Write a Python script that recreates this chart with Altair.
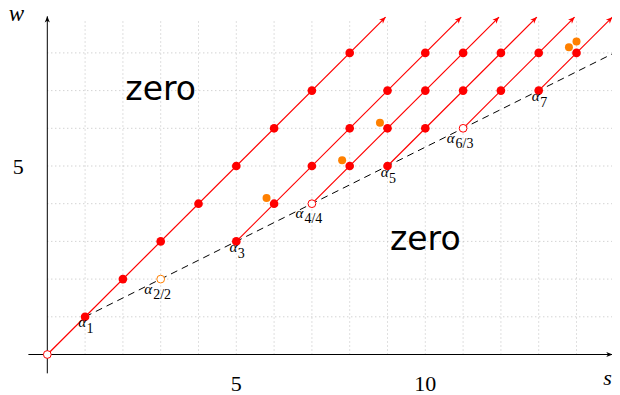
import altair as alt
import pandas as pd

# ---------------- data ----------------
# red rays w = s - k, start point and end point (arrow tip)
ray_s0 = [0, 5, 7, 9, 11, 13]
ray_w0 = [0, 3, 4, 5, 6, 7]
ray_s1 = [8.95, 10.95, 11.95, 12.95, 13.95, 14.95]
ray_w1 = [8.95, 8.95, 8.95, 8.95, 8.95, 8.95]

# filled red dots
red_s = [1, 2, 3, 4, 5, 6, 7, 8,
         5, 6, 7, 8, 9, 10,
         8, 9, 10, 11,
         9, 10, 11, 12,
         12, 13,
         13, 14]
red_w = [1, 2, 3, 4, 5, 6, 7, 8,
         3, 4, 5, 6, 7, 8,
         5, 6, 7, 8,
         5, 6, 7, 8,
         7, 8,
         7, 8]
# open red circles
red_open_s = [0, 7, 11]
red_open_w = [0, 4, 6]
# orange dots
orange_s = [5.8, 7.8, 8.8, 13.8, 14.0]
orange_w = [4.15, 5.15, 6.15, 8.15, 8.3]
orange_open_s = [3]
orange_open_w = [2]

# dashed line
dash_s = [1, 14.95]
dash_w = [1, 7.975]

# alpha labels
lab_s = [1, 3, 5, 7, 9, 11, 13]
lab_w = [1, 2, 3, 4, 5, 6, 7]
lab_sub = ["1", "2/2", "3", "4/4", "5", "6/3", "7"]

# "zero" region labels
zero_s = [3, 10]
zero_w = [7, 3]
zero_txt = ["zero", "zero"]

# ticks / grid
xtick_vals = [5, 10]
xtick_txt = ["5", "10"]
ytick_vals = [5]
ytick_txt = ["5"]
grid_s = list(range(1, 15))
grid_w = list(range(1, 9))
grid_top = 8.85
grid_right = 14.95

# axes extents
axis_s = [-0.5, 14.95]
axis_w = [-0.5, 8.97]

# ---------------- scales ----------------
W, H = 604, 387
X0 = -39.3 / 37.8
X1 = X0 + W / 37.8
Y1 = 346.5 / 37.7
Y0 = Y1 - H / 37.7
xs = alt.Scale(domain=[X0, X1], nice=False, zero=False)
ys = alt.Scale(domain=[Y0, Y1], nice=False, zero=False)


def X(f):
    return alt.X(f"{f}:Q", scale=xs, axis=None)


def Y(f):
    return alt.Y(f"{f}:Q", scale=ys, axis=None)


RED = "#ff0000"
ORANGE = "#ff8000"
ARROW = "M0,0 L-0.42,1 L0,0.72 L0.42,1 Z"
SERIF = "Liberation Serif"

# ---------------- layers ----------------
vgrid = pd.DataFrame({"s": grid_s, "w0": 0.0, "w1": grid_top})
hgrid = pd.DataFrame({"w": grid_w, "s0": 0.0, "s1": grid_right})
grid_v = alt.Chart(vgrid).mark_rule(color="#b0b0b0", strokeWidth=0.8, strokeDash=[1, 3]).encode(
    x=X("s"), y=Y("w0"), y2="w1")
grid_h = alt.Chart(hgrid).mark_rule(color="#b0b0b0", strokeWidth=0.8, strokeDash=[1, 3]).encode(
    y=Y("w"), x=X("s0"), x2="s1")

xaxis_df = pd.DataFrame({"s0": [axis_s[0]], "s1": [axis_s[1]], "w": [0.0]})
yaxis_df = pd.DataFrame({"w0": [axis_w[0]], "w1": [axis_w[1]], "s": [0.0]})
xaxis = alt.Chart(xaxis_df).mark_rule(color="#000000", strokeWidth=1).encode(
    x=X("s0"), x2="s1", y=Y("w"))
yaxis = alt.Chart(yaxis_df).mark_rule(color="#000000", strokeWidth=1).encode(
    y=Y("w0"), y2="w1", x=X("s"))
xarrow = alt.Chart(pd.DataFrame({"s": [axis_s[1]], "w": [0.0]})).mark_point(
    shape=ARROW, filled=True, color="#000000", size=150, angle=90, opacity=1).encode(x=X("s"), y=Y("w"))
yarrow = alt.Chart(pd.DataFrame({"s": [0.0], "w": [axis_w[1]]})).mark_point(
    shape=ARROW, filled=True, color="#000000", size=150, angle=0, opacity=1).encode(x=X("s"), y=Y("w"))

xt = alt.Chart(pd.DataFrame({"s": xtick_vals, "w": 0.0, "t": xtick_txt})).mark_text(
    font=SERIF, fontSize=22, dy=36, baseline="alphabetic", align="center", color="#000").encode(
    x=X("s"), y=Y("w"), text="t:N")
yt = alt.Chart(pd.DataFrame({"s": 0.0, "w": ytick_vals, "t": ytick_txt})).mark_text(
    font=SERIF, fontSize=22, dx=-29, dy=8, baseline="alphabetic", align="center", color="#000").encode(
    x=X("s"), y=Y("w"), text="t:N")
wtitle = alt.Chart(pd.DataFrame({"s": [0.0], "w": [axis_w[1]], "t": ["w"]})).mark_text(
    font=SERIF, fontSize=23, fontStyle="italic", dx=-31, dy=4.5, baseline="alphabetic", align="center",
    color="#000").encode(x=X("s"), y=Y("w"), text="t:N")
stitle = alt.Chart(pd.DataFrame({"s": [axis_s[1]], "w": [0.0], "t": ["s"]})).mark_text(
    font=SERIF, fontSize=22, fontStyle="italic", dx=-5, dy=30, baseline="alphabetic", align="center",
    color="#000").encode(x=X("s"), y=Y("w"), text="t:N")

dash = alt.Chart(pd.DataFrame({"s0": [dash_s[0]], "w0": [dash_w[0]], "s1": [dash_s[1]], "w1": [dash_w[1]]})).mark_rule(
    color="#000000", strokeWidth=1, strokeDash=[7, 5]).encode(x=X("s0"), y=Y("w0"), x2="s1", y2="w1")

rays_df = pd.DataFrame({"s0": ray_s0, "w0": ray_w0, "s1": ray_s1, "w1": ray_w1})
rays = alt.Chart(rays_df).mark_rule(color=RED, strokeWidth=1.2).encode(
    x=X("s0"), y=Y("w0"), x2="s1", y2="w1")
heads = alt.Chart(rays_df).mark_point(shape=ARROW, filled=True, color=RED, size=170, angle=45,
                                      opacity=1).encode(x=X("s1"), y=Y("w1"))

reds = alt.Chart(pd.DataFrame({"s": red_s, "w": red_w})).mark_point(
    filled=True, color=RED, size=75, opacity=1).encode(x=X("s"), y=Y("w"))
red_open = alt.Chart(pd.DataFrame({"s": red_open_s, "w": red_open_w})).mark_point(
    filled=False, color=RED, fill="white", fillOpacity=1, size=60, strokeWidth=1, opacity=1).encode(
    x=X("s"), y=Y("w"))
oranges = alt.Chart(pd.DataFrame({"s": orange_s, "w": orange_w})).mark_point(
    filled=True, color=ORANGE, size=64, opacity=1).encode(x=X("s"), y=Y("w"))
orange_open = alt.Chart(pd.DataFrame({"s": orange_open_s, "w": orange_open_w})).mark_point(
    filled=False, color=ORANGE, fill="white", fillOpacity=1, size=60, strokeWidth=1, opacity=1).encode(
    x=X("s"), y=Y("w"))

lab_df = pd.DataFrame({"s": lab_s, "w": lab_w, "sub": lab_sub, "a": "α"})
short = "length(datum.sub) == 1"
long_ = "length(datum.sub) > 1"
alpha_short = alt.Chart(lab_df).transform_filter(short).mark_text(
    font=SERIF, fontSize=15, fontStyle="italic", align="right", baseline="alphabetic", dx=1, dy=10.5,
    color="#000").encode(x=X("s"), y=Y("w"), text="a:N")
sub_short = alt.Chart(lab_df).transform_filter(short).mark_text(
    font=SERIF, fontSize=14, align="left", baseline="alphabetic", dx=1.5, dy=16.5,
    color="#000").encode(x=X("s"), y=Y("w"), text="sub:N")
alpha_long = alt.Chart(lab_df).transform_filter(long_).mark_text(
    font=SERIF, fontSize=15, fontStyle="italic", align="right", baseline="alphabetic", dx=-8.5, dy=14.5,
    color="#000").encode(x=X("s"), y=Y("w"), text="a:N")
sub_long = alt.Chart(lab_df).transform_filter(long_).mark_text(
    font=SERIF, fontSize=14, align="left", baseline="alphabetic", dx=-7.5, dy=19.5,
    color="#000").encode(x=X("s"), y=Y("w"), text="sub:N")

zeros = alt.Chart(pd.DataFrame({"s": zero_s, "w": zero_w, "t": zero_txt})).mark_text(
    font="DejaVu Sans", fontSize=33, align="center", baseline="alphabetic", dy=9, color="#000").encode(
    x=X("s"), y=Y("w"), text="t:N")

chart = alt.layer(
    grid_v, grid_h, xaxis, yaxis, xarrow, yarrow, xt, yt, wtitle, stitle,
    dash, rays, heads, reds, red_open, oranges, orange_open,
    alpha_short, sub_short, alpha_long, sub_long, zeros,
).properties(
    width=W, height=H, autosize=alt.AutoSizeParams(type="none"), padding=0,
    background="white",
).configure_view(strokeWidth=0)

chart.save("out.html", embed_options={"renderer": "svg", "actions": False})
